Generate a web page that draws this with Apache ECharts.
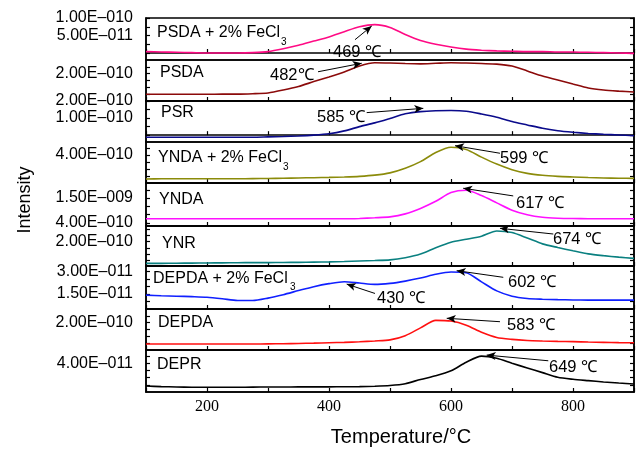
<!DOCTYPE html>
<html>
<head>
<meta charset="utf-8">
<script src="https://cdn.jsdelivr.net/npm/echarts@6/dist/echarts.min.js"></script>
<style>
  html, body { margin: 0; padding: 0; background: #fff; }
  #chart { width: 638px; height: 450px; }
</style>
</head>
<body>
<div id="chart"></div>
<script>
// temperature (°C) shared by all curves
const temps = [100, 125, 150, 175, 200, 225, 250, 275, 300, 325, 350, 375, 400, 425, 450, 475,
  500, 525, 550, 575, 600, 625, 650, 675, 700, 725, 750, 775, 800, 825, 850, 875, 900];

// intensities, each in its own unit (see panels below)
const psdaFe = [0.04, 0.03, 0.02, 0.01, 0.0, 0.0, 0.0, 0.01, 0.04, 0.12, 0.22, 0.34, 0.46, 0.61, 0.75, 0.81,
  0.73, 0.53, 0.36, 0.25, 0.17, 0.11, 0.08, 0.06, 0.05, 0.04, 0.04, 0.03, 0.03, 0.02, 0.01, 0.0, -0.01];
const psda = [0.49, 0.49, 0.49, 0.49, 0.49, 0.5, 0.5, 0.53, 0.59, 0.8, 1.06, 1.42, 1.76, 2.12, 2.56, 2.8,
  2.78, 2.74, 2.72, 2.76, 2.8, 2.78, 2.74, 2.7, 2.56, 2.2, 1.83, 1.54, 1.24, 0.95, 0.8, 0.72, 0.66];
const psr = [-0.12, -0.12, -0.12, -0.12, -0.12, -0.12, -0.12, -0.12, -0.1, -0.08, -0.05, 0.0, 0.08, 0.25, 0.5, 0.72,
  0.98, 1.25, 1.38, 1.43, 1.44, 1.4, 1.24, 1.05, 0.8, 0.6, 0.4, 0.26, 0.17, 0.1, 0.05, 0.01, -0.03];
const yndaFe = [0.58, 0.6, 0.6, 0.6, 0.6, 0.6, 0.6, 0.62, 0.65, 0.68, 0.72, 0.76, 0.8, 0.86, 0.95, 1.12,
  1.45, 2.1, 3.05, 4.35, 5.1, 4.8, 3.7, 2.7, 1.9, 1.38, 1.1, 0.95, 0.86, 0.78, 0.72, 0.68, 0.66];
const ynda = [5.85, 5.85, 5.85, 5.85, 5.85, 5.85, 5.85, 5.85, 5.85, 5.85, 5.85, 5.85, 5.85, 5.85, 6.0, 6.3,
  6.7, 8.0, 10.4, 13.5, 17.3, 18.3, 16.0, 12.8, 9.6, 7.6, 6.5, 6.1, 5.95, 5.9, 5.85, 5.85, 5.85];
const ynr = [0.22, 0.22, 0.23, 0.24, 0.25, 0.26, 0.27, 0.28, 0.28, 0.29, 0.3, 0.32, 0.34, 0.37, 0.41, 0.45,
  0.5, 0.68, 0.98, 1.5, 1.95, 2.2, 2.45, 2.88, 2.75, 2.3, 1.82, 1.52, 1.25, 1.0, 0.85, 0.73, 0.63];
const depdaFe = [1.42, 1.38, 1.35, 1.32, 1.28, 1.18, 1.06, 1.06, 1.22, 1.45, 1.72, 1.98, 2.18, 2.31, 2.22, 2.13,
  2.2, 2.35, 2.55, 2.8, 2.95, 2.9, 2.3, 1.7, 1.35, 1.2, 1.15, 1.12, 1.1, 1.09, 1.09, 1.09, 1.09];
const depda = [0.44, 0.44, 0.44, 0.44, 0.44, 0.44, 0.44, 0.44, 0.45, 0.46, 0.48, 0.5, 0.53, 0.56, 0.6, 0.66,
  0.74, 1.05, 1.62, 2.17, 2.12, 1.82, 1.3, 0.92, 0.78, 0.7, 0.66, 0.63, 0.61, 0.58, 0.56, 0.54, 0.53];
const depr = [0.83, 0.75, 0.7, 0.67, 0.66, 0.66, 0.66, 0.68, 0.7, 0.7, 0.71, 0.72, 0.72, 0.73, 0.75, 0.8,
  0.9, 1.15, 1.75, 2.25, 2.95, 4.15, 5.0, 4.7, 4.0, 3.35, 2.7, 2.05, 1.77, 1.58, 1.4, 1.25, 1.11];

// y tick labels per panel (same unit as the curve)
const psdaFeTicks = [0.5, 1.0];
const psdaTicks = [2.0];
const psrTicks = [1.0, 2.0];
const yndaFeTicks = [4.0];
const yndaTicks = [4.0, 15.0];
const ynrTicks = [2.0];
const depdaFeTicks = [1.5, 3.0];
const depdaTicks = [2.0];
const deprTicks = [4.0];

// peak annotations: text, arrow tail [T, I], arrow head [T, I]
const peakText = ['469 ℃', '482℃', '585 ℃', '599 ℃', '617 ℃', '674 ℃', '602 ℃', '430 ℃', '583 ℃', '649 ℃'];
const peakFrom = [[442.6, 0.38], [382, 2.14], [461.8, 1.32], [680.3, 4.25], [702, 15.85], [767.7, 2.63],
  [685.7, 2.6], [475.4, 1.53], [680.3, 2.07], [759.5, 4.35]];
const peakTo = [[470, 0.77], [453.6, 2.76], [554.6, 1.57], [606.6, 5.33], [620, 19.2], [680.3, 3.1],
  [609.3, 3.04], [429, 2.15], [593, 2.32], [658.5, 5.14]];
const peakPanel = [0, 1, 2, 3, 4, 5, 6, 6, 7, 8];

const panels = [
  { name: 'PSDA + 2% FeCl', sub: true, data: psdaFe, ticks: psdaFeTicks, unit: 1e-10, color: '#ff0a84',
    top: 18, height: 42, min: -0.2, max: 1.0, minor: [0, 0.25, 0.5, 0.75, 1.0], nx: 157, ny: 33, sx: 281, sy: 42 },
  { name: 'PSDA', data: psda, ticks: psdaTicks, unit: 1e-10, color: '#8b0a0a',
    top: 60, height: 41, min: 0, max: 3.0, minor: [0.5, 1, 1.5, 2, 2.5], nx: 160, ny: 73 },
  { name: 'PSR', data: psr, ticks: psrTicks, unit: 1e-10, color: '#0a0a8b',
    top: 101, height: 41, min: -0.4, max: 2.0, minor: [0, 0.5, 1, 1.5, 2], nx: 161, ny: 113 },
  { name: 'YNDA + 2% FeCl', sub: true, data: yndaFe, ticks: yndaFeTicks, unit: 1e-10, color: '#8b8b0a',
    top: 142, height: 41, min: 0, max: 5.86, minor: [1, 2, 3, 4, 5], nx: 158, ny: 158, sx: 283, sy: 167 },
  { name: 'YNDA', data: ynda, ticks: yndaTicks, unit: 1e-10, color: '#ff10ff',
    top: 183, height: 43, min: 2.7, max: 21.5, minor: [4, 8, 11.5, 15, 18.5], nx: 159, ny: 200 },
  { name: 'YNR', data: ynr, ticks: ynrTicks, unit: 1e-10, color: '#0a8080',
    top: 226, height: 40, min: 0, max: 3.29, minor: [0.5, 1, 1.5, 2, 2.5, 3], nx: 162, ny: 244 },
  { name: 'DEPDA + 2% FeCl', sub: true, data: depdaFe, ticks: depdaFeTicks, unit: 1e-11, color: '#1020ff',
    top: 266, height: 43, min: 0.5, max: 3.35, minor: [1, 1.5, 2, 2.5, 3], nx: 153, ny: 279, sx: 290, sy: 287 },
  { name: 'DEPDA', data: depda, ticks: depdaTicks, unit: 1e-10, color: '#ff1010',
    top: 309, height: 41, min: 0, max: 3.0, minor: [0.5, 1, 1.5, 2, 2.5], nx: 158, ny: 323 },
  { name: 'DEPR', data: depr, ticks: deprTicks, unit: 1e-11, color: '#000000',
    top: 350, height: 42, min: 0, max: 5.85, minor: [1, 2, 3, 4, 5], nx: 157, ny: 365 }
];

// pixel spots for peak texts (left, middle)
const peakPos = [[333, 52], [270, 75], [317, 117], [500, 158], [516, 203], [553, 239], [508, 282], [377, 298], [507, 325], [549, 367]];

const sansFont = '"Liberation Sans", Arial, sans-serif';

function sci(v, unit) {
  const s = (v * unit).toExponential(2);
  const parts = s.split('e');
  const e = parseInt(parts[1], 10);
  return parts[0] + 'E' + (e < 0 ? '–' : '+') + String(Math.abs(e)).padStart(3, '0');
}

const grids = [], xAxes = [], yAxes = [], series = [], graphics = [];

panels.forEach((p, i) => {
  grids.push({ left: 146, right: 4, top: p.top, height: p.height, show: true, borderColor: '#000', borderWidth: 1.5 });
  xAxes.push({
    type: 'value', gridIndex: i, min: 100, max: 900, interval: 100,
    axisLine: { lineStyle: { color: '#000', width: 1.5 } },
    axisTick: { inside: true, length: 4, lineStyle: { color: '#000', width: 1.2 } },
    axisLabel: {
      show: i === panels.length - 1, margin: 7, color: '#000', fontSize: 16,
      fontFamily: '"Liberation Serif", "Times New Roman", serif',
      formatter: v => (v % 200 === 0 && v > 100 && v < 900) ? String(v) : ''
    },
    splitLine: { show: false }
  });
  yAxes.push({
    type: 'value', gridIndex: i, position: 'left', min: p.min, max: p.max,
    axisLine: { show: true, lineStyle: { color: '#000', width: 1.5 } },
    axisTick: { show: true, inside: true, length: 4, customValues: p.minor, lineStyle: { color: '#000', width: 1.2 } },
    axisLabel: {
      customValues: p.ticks, margin: 13, color: '#000', fontSize: 16, fontFamily: sansFont,
      lineHeight: 12, hideOverlap: false,
      formatter: v => sci(v, p.unit)
    },
    splitLine: { show: false }
  });
  yAxes.push({
    type: 'value', gridIndex: i, position: 'right', min: p.min, max: p.max,
    axisLine: { show: true, lineStyle: { color: '#000', width: 1.5 } },
    axisTick: { show: true, inside: true, length: 4, customValues: p.minor, lineStyle: { color: '#000', width: 1.2 } },
    axisLabel: { show: false },
    splitLine: { show: false }
  });

  const arrows = [];
  peakPanel.forEach((pi, k) => {
    if (pi === i) arrows.push([{ coord: peakFrom[k] }, { coord: peakTo[k] }]);
  });

  series.push({
    type: 'line', xAxisIndex: i, yAxisIndex: i * 2,
    data: temps.map((t, k) => [t, p.data[k]]),
    smooth: 0.25, showSymbol: false,
    lineStyle: { color: p.color, width: 1.6 },
    markLine: {
      silent: true, symbol: ['none', 'arrow'], symbolSize: [6, 9],
      label: { show: false },
      lineStyle: { color: '#000', width: 1, type: 'solid' },
      data: arrows
    }
  });

  graphics.push({
    type: 'text', x: p.nx, y: p.ny,
    style: { text: p.name, fill: '#000', fontSize: 16, fontFamily: sansFont, textAlign: 'left', textVerticalAlign: 'middle' }
  });
  if (p.sub) {
    graphics.push({
      type: 'text', x: p.sx, y: p.sy,
      style: { text: '3', fill: '#000', fontSize: 10, fontFamily: sansFont, textAlign: 'left', textVerticalAlign: 'middle' }
    });
  }
});

peakText.forEach((t, k) => {
  graphics.push({
    type: 'text', x: peakPos[k][0], y: peakPos[k][1],
    style: { text: t, fill: '#000', fontSize: 16.5, fontFamily: sansFont, textAlign: 'left', textVerticalAlign: 'middle' }
  });
});

graphics.push({
  type: 'text', x: 25, y: 200, rotation: Math.PI / 2,
  style: { text: 'Intensity', fill: '#000', fontSize: 18, fontFamily: sansFont, textAlign: 'center', textVerticalAlign: 'middle' }
});
graphics.push({
  type: 'text', x: 401, y: 437,
  style: { text: 'Temperature/°C', fill: '#000', fontSize: 20, fontFamily: sansFont, textAlign: 'center', textVerticalAlign: 'middle' }
});

const chart = echarts.init(document.getElementById('chart'));
chart.setOption({
  animation: false,
  backgroundColor: '#fff',
  grid: grids,
  xAxis: xAxes,
  yAxis: yAxes,
  series: series,
  graphic: graphics
});
</script>
</body>
</html>
